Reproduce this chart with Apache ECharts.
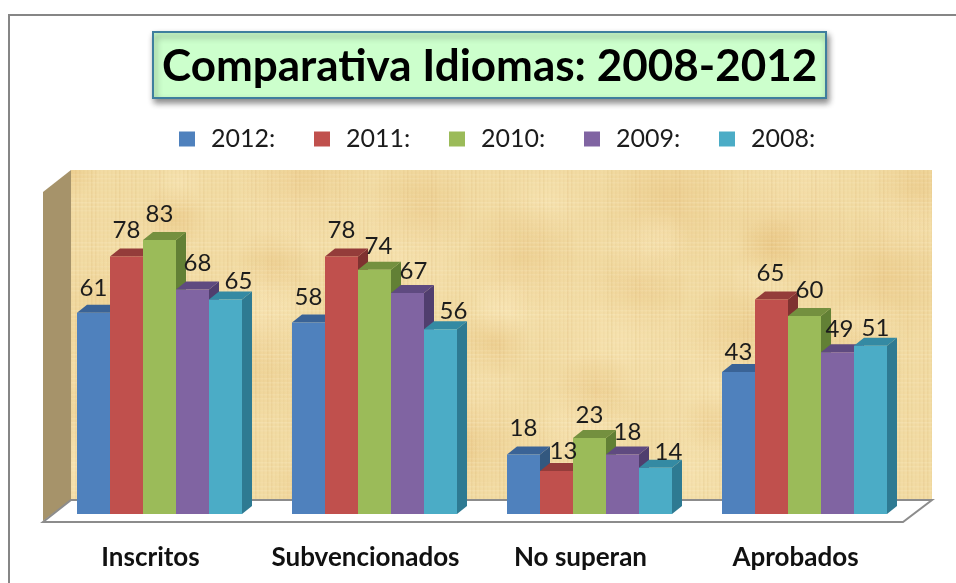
<!DOCTYPE html>
<html><head><meta charset="utf-8">
<style>html,body{margin:0;padding:0;background:#fff}#c{width:956px;height:583px}</style>
<script src="https://cdn.jsdelivr.net/npm/echarts@6/dist/echarts.min.js"></script>
</head><body><div id="c"></div>
<script>
const categories = ['Inscritos','Subvencionados','No superan','Aprobados'];
const seriesNames = ['2012:','2011:','2010:','2009:','2008:'];
const v2012 = [61,58,18,43];
const v2011 = [78,78,13,65];
const v2010 = [83,74,23,60];
const v2009 = [68,67,18,49];
const v2008 = [65,56,14,51];
const values = [v2012,v2011,v2010,v2009,v2008];
const front = ['#4F81BD','#C0504D','#9BBB59','#8064A2','#4BACC6'];
const topC  = ['#3A6396','#943C3A','#74903F','#5F4A80','#348AA3'];
const side  = ['#33587F','#7F3230','#628035','#503E6E','#2E7A92'];
const BW=33, DX=10, DY=8;
// hand placement of each value label relative to its bar (series x category)
const labelDx = [[0,0,0,0],[0,0,7,-1],[0,4,0,5],[5,6,5,2],[13,13,13,5]];
const labelDy = [[16,17,18,12],[18,18,12,18],[18,16,15,18],[18,14,14,15],[10,10,8,9]];

function papyrus(){
  const W=861,H=330;
  const c=document.createElement('canvas');c.width=W;c.height=H;
  const g=c.getContext('2d');g.fillStyle='#F2DBA3';g.fillRect(0,0,W,H);
  for(let k=0;k<60;k++){
    const x=(k*197)%W,y=(k*131)%H,r=28+(k*17)%50;
    const col=k%2?'255,240,200':'226,180,104';
    const rg=g.createRadialGradient(x,y,2,x,y,r);
    rg.addColorStop(0,'rgba('+col+',.3)');rg.addColorStop(1,'rgba('+col+',0)');
    g.fillStyle=rg;g.fillRect(x-r,y-r,2*r,2*r);
  }
  for(let i=0;i<W;i+=4){
    const a=0.05+0.06*Math.abs(Math.sin(i*0.37)+Math.sin(i*0.091));
    g.fillStyle='rgba(205,165,95,'+a+')';g.fillRect(i,0,1.5,H);
  }
  for(let i=0;i<H;i+=4){
    const b=0.05+0.07*Math.abs(Math.sin(i*0.23)+Math.sin(i*0.057));
    g.fillStyle='rgba(255,248,222,'+b+')';g.fillRect(0,i,W,1.5);
  }
  return c;
}

function bar3d(i){
  return function(p,api){
    const cat=api.value(0), val=api.value(1);
    const base=api.coord([cat,0]), top=api.coord([cat,val]);
    const band=api.size([1,0])[0];
    const x=base[0]-band/2+25+i*BW, y=top[1], b=base[1];
    return {type:'group',children:[
      {type:'polygon',shape:{points:[[x+BW,y],[x+BW+DX,y-DY],[x+BW+DX,b-DY],[x+BW,b]]},style:{fill:side[i]}},
      {type:'polygon',shape:{points:[[x,y],[x+DX,y-DY],[x+BW+DX,y-DY],[x+BW,y]]},style:{fill:topC[i]}},
      {type:'rect',shape:{x:x,y:y,width:BW,height:b-y},style:{fill:front[i]}}
    ]};
  };
}
function label3d(i){
  return function(p,api){
    const cat=api.value(0), val=api.value(1);
    const base=api.coord([cat,0]), top=api.coord([cat,val]);
    const band=api.size([1,0])[0];
    const x=base[0]-band/2+25+i*BW+BW/2+labelDx[i][cat], y=top[1]-DY-labelDy[i][cat];
    return {type:'text',x:x,y:y,style:{text:String(val),fill:'#1c1c1c',font:'24px Lato, "Open Sans", sans-serif',textAlign:'center',textVerticalAlign:'middle'}};
  };
}

const chart=echarts.init(document.getElementById('c'),null,{renderer:'canvas'});
const dataOf=i=>categories.map((c,k)=>[k,values[i][k]]);
chart.setOption({
  animation:false,
  backgroundColor:'#fff',
  title:{text:'Comparativa Idiomas: 2008-2012',left:153,top:32,padding:[12,9,8,9],
    backgroundColor:'#CCFFCC',borderColor:'#3F7E9E',borderWidth:2,
    shadowColor:'rgba(0,0,0,.45)',shadowBlur:6,shadowOffsetX:2,shadowOffsetY:4,
    textStyle:{fontFamily:'Lato',fontWeight:'bold',fontSize:44,color:'#000',lineHeight:46}},
  legend:{top:121,left:174,itemWidth:16,itemHeight:15,itemGap:33,icon:'rect',
    data:seriesNames,
    textStyle:{fontFamily:'Lato',fontSize:25,color:'#1c1c1c',padding:[0,0,0,11],width:70,lineHeight:26}},
  grid:{left:52,width:860,top:184,height:330},
  xAxis:{type:'category',data:categories,axisLine:{show:false},axisTick:{show:false},
    axisLabel:{color:'#111',fontFamily:'Lato',fontWeight:'bold',fontSize:26,margin:31,interval:0,padding:[0,18,0,0]}},
  yAxis:{type:'value',min:0,max:100,show:false,splitLine:{show:false}},
  graphic:[
    {type:'rect',z:0,shape:{x:9,y:15,width:1100,height:700},style:{fill:'none',stroke:'#868686',lineWidth:2}},
    {type:'image',z:0,x:71,y:170,style:{image:papyrus(),x:0,y:0,width:861,height:330}},
    {type:'polygon',z:0,shape:{points:[[43,192],[71,170],[71,500],[43,521]]},style:{fill:'#A6936A'}},
    {type:'polygon',z:0,shape:{points:[[71,500],[932,500],[903,522],[43,522]]},style:{fill:'#fff',stroke:'#8C8C8C',lineWidth:2}}
  ],
  series:seriesNames.map((n,i)=>({
    type:'custom',name:n,z:2,itemStyle:{color:front[i]},
    coordinateSystem:'cartesian2d',renderItem:bar3d(i),
    data:dataOf(i),encode:{x:0,y:1}
  })).concat(seriesNames.map((n,i)=>({
    type:'custom',name:'label '+n,z:3,
    coordinateSystem:'cartesian2d',renderItem:label3d(i),
    data:dataOf(i),encode:{x:0,y:1}
  })))
});
</script></body></html>
